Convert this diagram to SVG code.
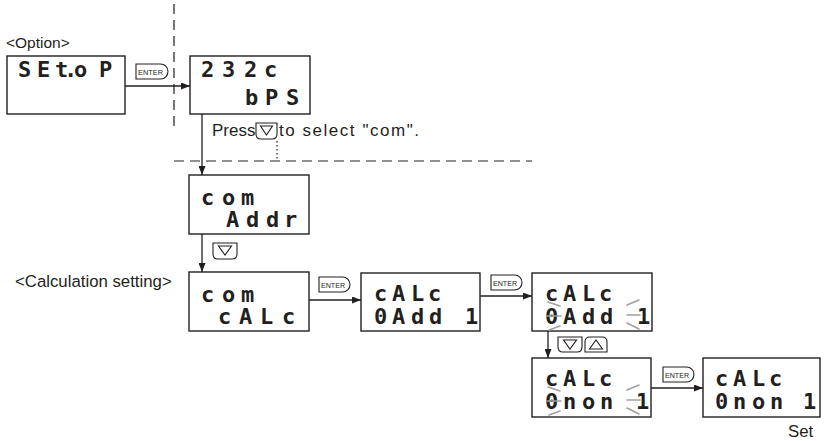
<svg xmlns="http://www.w3.org/2000/svg" width="826" height="441" viewBox="0 0 826 441">
<style>
.box{fill:#fff;stroke:#231f20;stroke-width:1.4}
.seg{font-family:"DejaVu Sans Mono",monospace;font-weight:bold;font-size:22px;fill:#231f20}
.lbl{font-family:"Liberation Sans",Arial,sans-serif;font-size:16.8px;fill:#231f20}
.btn{fill:#fff;stroke:#231f20;stroke-width:1.1}
.btxt{font-family:"Liberation Sans",Arial,sans-serif;font-size:8px;fill:#231f20}
.tri{fill:none;stroke:#231f20;stroke-width:1.1}
.conn{stroke:#231f20;stroke-width:1.3;fill:none}
.dash{stroke:#231f20;stroke-width:1.2;stroke-dasharray:10 6;fill:none}
.dot{stroke:#231f20;stroke-width:1.2;stroke-dasharray:1.5 2.5;fill:none}
.blink{stroke:#a0a0a0;stroke-width:1.6;stroke-linecap:round}
</style>
<defs>
<marker id="ah" markerUnits="userSpaceOnUse" markerWidth="9" markerHeight="7" refX="9" refY="3.5" orient="auto">
<path d="M0,0 L9,3.5 L0,7 Z" fill="#231f20"/>
</marker>
</defs>

<g id="guides">
<line class="dash" x1="174" y1="4" x2="174" y2="130"/>
<line class="dash" x1="174" y1="161" x2="532" y2="161"/>
</g>

<g id="labels">
<text class="lbl" x="6" y="48" style="font-size:15.5px">&lt;Option&gt;</text>
<text class="lbl" x="212" y="136" style="font-size:17px">Press</text>
<text class="lbl" x="279" y="136" style="font-size:17px" textLength="140" lengthAdjust="spacing">to select "com".</text>
<text class="lbl" x="15" y="287">&lt;Calculation setting&gt;</text>
<text class="lbl" x="788" y="437">Set</text>
</g>

<g id="connectors">
<line class="conn" x1="125" y1="86" x2="190" y2="86" marker-end="url(#ah)"/>
<line class="conn" x1="202" y1="114" x2="202" y2="175" marker-end="url(#ah)"/>
<line class="conn" x1="202" y1="234" x2="202" y2="272" marker-end="url(#ah)"/>
<line class="conn" x1="309" y1="300" x2="361" y2="300" marker-end="url(#ah)"/>
<line class="conn" x1="480" y1="296" x2="532" y2="296" marker-end="url(#ah)"/>
<line class="conn" x1="548" y1="331" x2="548" y2="358" marker-end="url(#ah)"/>
<line class="conn" x1="651" y1="388" x2="703" y2="388" marker-end="url(#ah)"/>
<line class="dot" x1="277" y1="141" x2="277" y2="159"/>
</g>

<g id="buttons">
<g id="enter1"><path class="btn" d="M136,64 H160.5 A7.5,7.5 0 0 1 160.5,79 H136 Z"/><text class="btxt" x="138" y="74.5" textLength="25" lengthAdjust="spacingAndGlyphs">ENTER</text></g>
<g id="enter2"><path class="btn" d="M319,277 H342.5 A7.5,7.5 0 0 1 342.5,292 H319 Z"/><text class="btxt" x="321" y="287.5" textLength="24" lengthAdjust="spacingAndGlyphs">ENTER</text></g>
<g id="enter3"><path class="btn" d="M491,275 H514.5 A7.5,7.5 0 0 1 514.5,290 H491 Z"/><text class="btxt" x="493" y="285.5" textLength="24" lengthAdjust="spacingAndGlyphs">ENTER</text></g>
<g id="enter4"><path class="btn" d="M663,367 H686.5 A7.5,7.5 0 0 1 686.5,382 H663 Z"/><text class="btxt" x="665" y="377.5" textLength="24" lengthAdjust="spacingAndGlyphs">ENTER</text></g>
<g id="down1"><path class="btn" d="M256,123 H277 V134 Q277,139 272,139 H261 Q256,139 256,134 Z"/><path class="tri" d="M260.5,126 H272.5 L266.5,135 Z"/></g>
<g id="down2"><path class="btn" d="M213,243 H237 V254 Q237,259 232,259 H218 Q213,259 213,254 Z"/><path class="tri" d="M218.5,246 H231.5 L225,255 Z"/></g>
<g id="down3"><path class="btn" d="M558,337 H582 V347 Q582,352 577,352 H563 Q558,352 558,347 Z"/><path class="tri" d="M563.5,340 H576.5 L570,349 Z"/></g>
<g id="up3"><path class="btn" d="M585,352 H607 V342 Q607,337 602,337 H590 Q585,337 585,342 Z"/><path class="tri" d="M589.5,349 H602.5 L596,340 Z"/></g>
</g>

<g id="n-setop">
<rect class="box" x="7" y="56" width="118" height="58"/>
<text class="seg" x="18 37 55 64 74 99" y="77">SEt.oP</text>
</g>
<g id="n-232c">
<rect class="box" x="190" y="56" width="120" height="58"/>
<text class="seg" x="201 222 244 264" y="77">232c</text>
<text class="seg" x="245 265 286" y="105">bPS</text>
</g>
<g id="n-com-addr">
<rect class="box" x="189" y="175" width="120" height="59"/>
<text class="seg" x="201 222 241" y="205">com</text>
<text class="seg" x="226 246 266 284" y="227">Addr</text>
</g>
<g id="n-com-calc">
<rect class="box" x="189" y="272" width="120" height="59"/>
<text class="seg" x="201 222 241" y="302">com</text>
<text class="seg" x="218 239 260 282" y="324">cALc</text>
</g>
<g id="n-calc-add">
<rect class="box" x="361" y="273" width="119" height="58"/>
<text class="seg" x="374 392 411 428" y="301">cALc</text>
<text class="seg" x="374 392 411 429 448 465" y="324">0Add 1</text>
</g>
<g id="n-calc-add-blink">
<rect class="box" x="532" y="273" width="120" height="58"/>
<text class="seg" x="545 563 582 599" y="301">cALc</text>
<text class="seg" x="545 563 582 600 619 637" y="324">0Add 1</text>
<line class="blink" x1="548" y1="302" x2="560" y2="306"/>
<line class="blink" x1="547" y1="316" x2="561" y2="316"/>
<line class="blink" x1="549" y1="330" x2="560" y2="326"/>
<line class="blink" x1="627" y1="305" x2="639" y2="300"/>
<line class="blink" x1="627" y1="315" x2="640" y2="315"/>
<line class="blink" x1="627" y1="323" x2="639" y2="329"/>
</g>
<g id="n-calc-non-blink">
<rect class="box" x="532" y="358" width="119" height="59"/>
<text class="seg" x="545 563 582 599" y="386">cALc</text>
<text class="seg" x="545 563 582 600 619 636" y="409">0non 1</text>
<line class="blink" x1="548" y1="387" x2="560" y2="391"/>
<line class="blink" x1="547" y1="401" x2="561" y2="401"/>
<line class="blink" x1="549" y1="415" x2="560" y2="411"/>
<line class="blink" x1="627" y1="390" x2="639" y2="385"/>
<line class="blink" x1="627" y1="400" x2="640" y2="400"/>
<line class="blink" x1="627" y1="408" x2="639" y2="414"/>
</g>
<g id="n-calc-non-set">
<rect class="box" x="703" y="358" width="117" height="59"/>
<text class="seg" x="715 733 752 769" y="386">cALc</text>
<text class="seg" x="715 733 752 770 789 803" y="409">0non 1</text>
</g>
</svg>
